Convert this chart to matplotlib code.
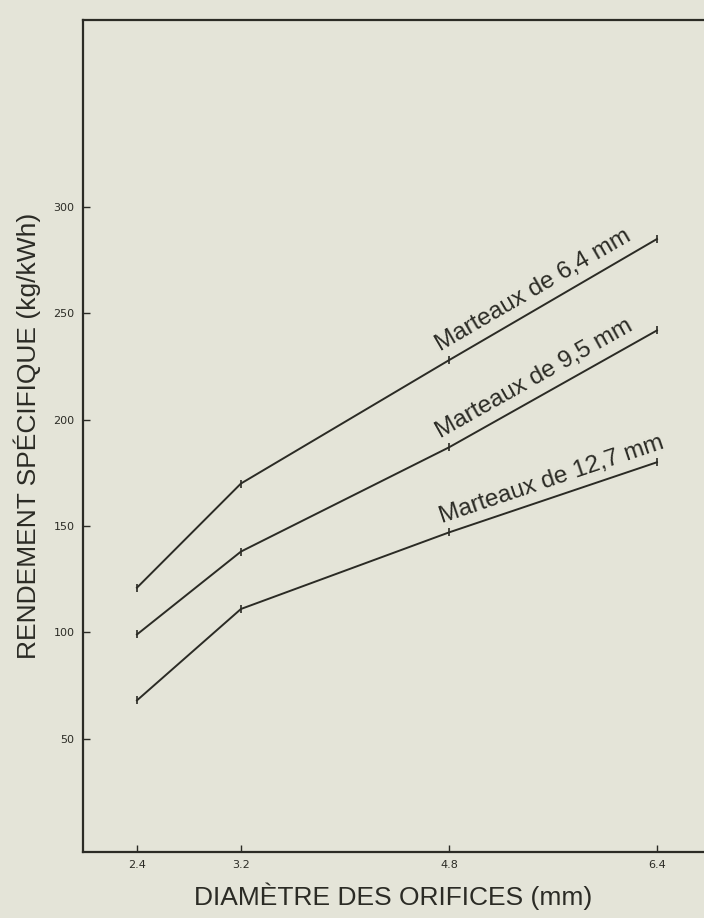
import matplotlib.pyplot as plt
import numpy as np

# Hole diameter (mm) and specific output (kg/kWh) for three hammer sizes
diametres = [2.4, 3.2, 4.8, 6.4]
marteaux_64 = [121, 170, 228, 285]
marteaux_95 = [99, 138, 187, 242]
marteaux_127 = [68, 111, 147, 180]
series = [("Marteaux de 6,4 mm", marteaux_64),
          ("Marteaux de 9,5 mm", marteaux_95),
          ("Marteaux de 12,7 mm", marteaux_127)]
y_ticks = [50, 100, 150, 200, 250, 300]

bg = '#e4e4d8'
ink = '#2b2b25'

fig = plt.figure(figsize=(7.04, 9.18), dpi=100, facecolor=bg)
ax = fig.add_axes([83/704, 66/918, 1 - 83/704, 832/918])
ax.set_facecolor(bg)

for name, vals in series:
    ax.plot(diametres, vals, color=ink, linewidth=1.4, marker='|',
            markersize=6, markeredgewidth=1.2)

ax.set_xlim(1.985, 6.762)
ax.set_ylim(-3.3, 388)

# Line labels along the last segment
for name, vals in series:
    p0 = ax.transData.transform((diametres[2], vals[2]))
    p1 = ax.transData.transform((diametres[3], vals[3]))
    ang = np.degrees(np.arctan2(p1[1] - p0[1], p1[0] - p0[0]))
    ax.annotate(name, xy=(diametres[2], vals[2]), xytext=(-4, 3),
                textcoords='offset points', rotation=ang,
                rotation_mode='anchor', ha='left', va='bottom',
                fontsize=17.5, family='Liberation Sans', color=ink)

ax.set_xticks(diametres)
ax.set_xticklabels([str(d) for d in diametres])
ax.set_yticks(y_ticks)
ax.tick_params(direction='in', length=5, width=1, color=ink,
               labelsize=8, labelcolor=ink, pad=6)

for s in ['left', 'bottom', 'top']:
    ax.spines[s].set_linewidth(1.6)
    ax.spines[s].set_color(ink)
ax.spines['right'].set_visible(False)

ax.set_xlabel("DIAMÈTRE DES ORIFICES (mm)", fontsize=19,
              family='Liberation Sans', color=ink, labelpad=9)
ax.set_ylabel("RENDEMENT SPÉCIFIQUE (kg/kWh)", fontsize=19,
              family='Liberation Sans', color=ink, labelpad=9)

fig.savefig('out.png', dpi=100, facecolor=bg)
